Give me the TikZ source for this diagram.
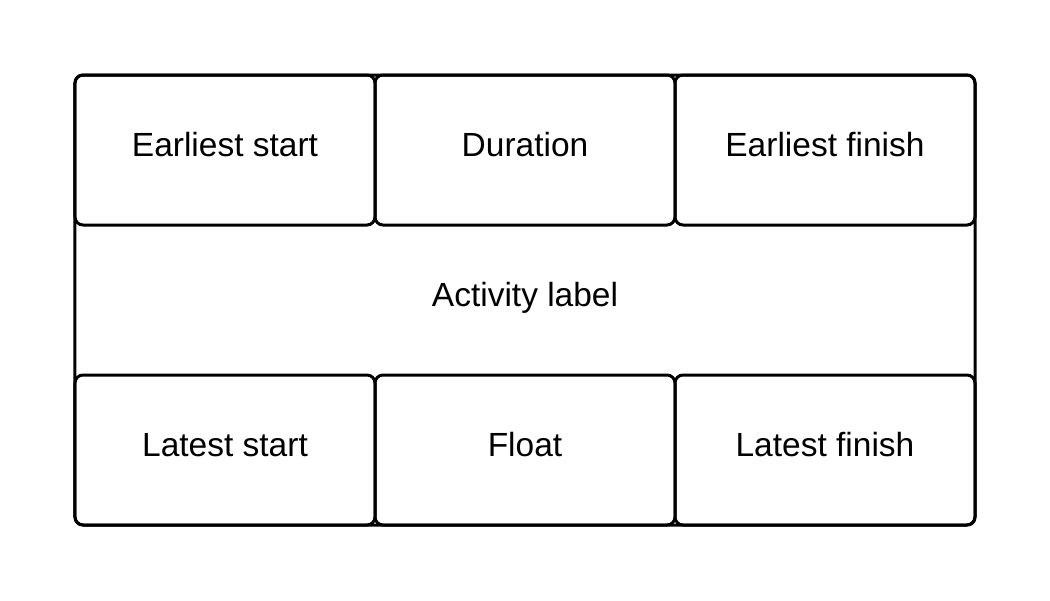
\documentclass[tikz,border=0pt]{standalone}
\usepackage{fontspec}
\setmainfont{Liberation Sans}
\usetikzlibrary{positioning}

\begin{document}
\begin{tikzpicture}[node distance=0pt,
  cell/.style={draw, line width=1.5pt, rounded corners=4pt, minimum width=150pt,
    minimum height=75pt, outer sep=0pt, text height=12pt, text depth=6pt,
    font=\fontsize{16.75}{20}\selectfont}]
% Top row
\node[cell] (es) {Earliest start};
\node[cell, right=of es] (dur) {Duration};
\node[cell, right=of dur] (ef) {Earliest finish};

% Activity row
\node[cell, draw=none, minimum width=450pt, below=of dur] (act) {Activity label};

% Bottom row
\node[cell, below=75pt of es] (ls) {Latest start};
\node[cell, right=of ls] (fl) {Float};
\node[cell, right=of fl] (lf) {Latest finish};

% Outer frame
\draw[line width=1.5pt, rounded corners=4pt] (es.north west) rectangle (lf.south east);

\useasboundingbox ([shift={(-37.5pt,37.5pt)}]es.north west) rectangle ([shift={(37.5pt,-37.5pt)}]lf.south east);
\end{tikzpicture}
\end{document}
